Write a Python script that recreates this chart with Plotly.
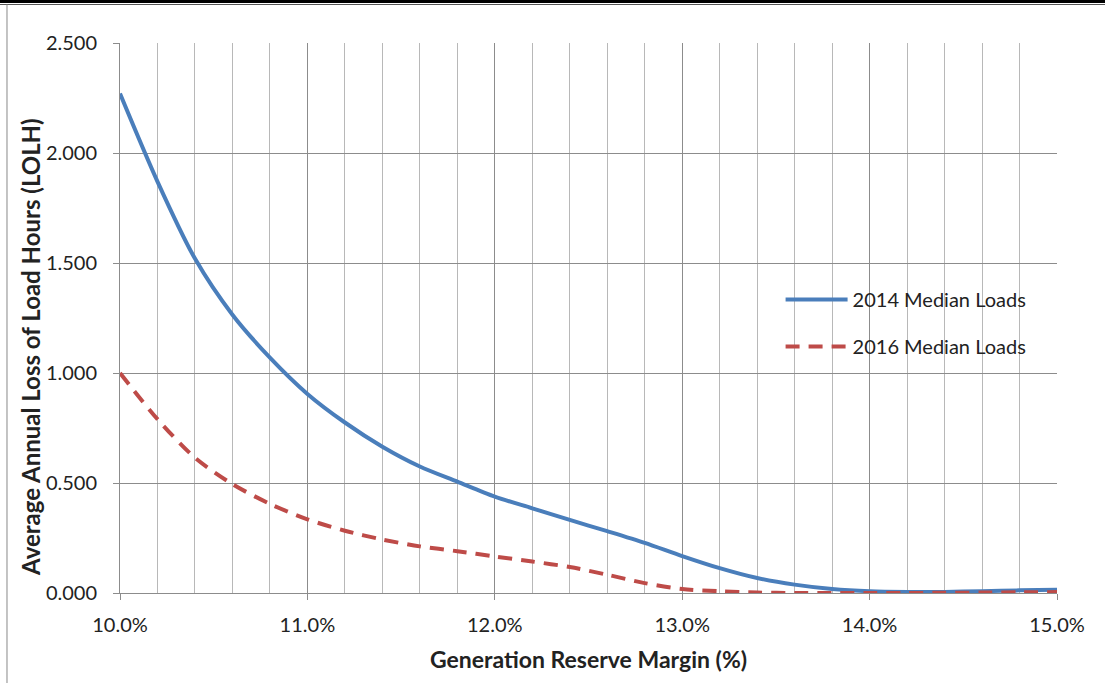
import plotly.graph_objects as go

margin_pct = [10.0, 10.2, 10.4, 10.6, 10.8, 11.0, 11.2, 11.4, 11.6, 11.8, 12.0, 12.2, 12.4,
              12.6, 12.8, 13.0, 13.2, 13.4, 13.6, 13.8, 14.0, 14.2, 14.4, 14.6, 14.8, 15.0]
lolh_2014 = [2.27, 1.87, 1.52, 1.265, 1.07, 0.905, 0.775, 0.665, 0.575, 0.506, 0.438, 0.385, 0.332,
             0.281, 0.228, 0.168, 0.113, 0.068, 0.038, 0.018, 0.008, 0.005, 0.005, 0.008, 0.012, 0.015]
lolh_2016 = [1.00, 0.79, 0.615, 0.495, 0.405, 0.335, 0.283, 0.243, 0.212, 0.19, 0.166, 0.143, 0.118,
             0.083, 0.045, 0.018, 0.008, 0.002, 0.0, 0.0, 0.0, 0.0, 0.001, 0.002, 0.003, 0.004]
series_names = ["2014 Median Loads", "2016 Median Loads"]
x_ticks = [10, 11, 12, 13, 14, 15]
y_ticks = [0, 0.5, 1.0, 1.5, 2.0, 2.5]
x_title = "Generation Reserve Margin (%)"
y_title = "Average Annual Loss of Load Hours (LOLH)"

FONT = "Lato, Carlito, Calibri, sans-serif"

fig = go.Figure()
fig.add_trace(go.Scatter(x=margin_pct, y=lolh_2014, mode="lines", name=series_names[0],
                         line=dict(color="#4A7EBB", width=4, shape="spline", smoothing=0.8),
                         legendgroup="a"))
fig.add_trace(go.Scatter(x=margin_pct, y=lolh_2016, mode="lines", name=series_names[1],
                         line=dict(color="#BE4B48", width=4, shape="spline", smoothing=0.8,
                                   dash="14px,9px"),
                         legendgroup="b"))

fig.update_layout(
    width=1105, height=683,
    margin=dict(l=120, r=48, t=43, b=90),
    paper_bgcolor="white", plot_bgcolor="white",
    font=dict(family=FONT, size=20, color="#222222"),
    showlegend=True,
    legend=dict(x=0.705, y=0.569, xanchor="left", yanchor="top", bgcolor="rgba(0,0,0,0)",
                font=dict(size=20, color="#222222"), itemwidth=62, tracegroupgap=18),
    xaxis=dict(range=[10, 15], tickvals=x_ticks, ticktext=[f"{v:.1f}%" for v in x_ticks],
               tickfont=dict(size=20),
               showgrid=True, gridcolor="#8c8c8c", gridwidth=1,
               minor=dict(dtick=0.2, tick0=10, showgrid=True, gridcolor="#b8b8b8", gridwidth=1),
               showline=True, linecolor="#8c8c8c", linewidth=1,
               ticks="outside", ticklen=6, tickcolor="#8c8c8c", ticklabelstandoff=8,
               zeroline=False, mirror=False,
               title=dict(text=f"<b>{x_title}</b>", font=dict(size=23), standoff=16)),
    yaxis=dict(range=[0, 2.5], tickvals=y_ticks, tickformat=".3f",
               tickfont=dict(size=20),
               showgrid=True, gridcolor="#8c8c8c", gridwidth=1,
               showline=True, linecolor="#8c8c8c", linewidth=1,
               ticks="outside", ticklen=6, tickcolor="#8c8c8c", ticklabelstandoff=12,
               zeroline=False),
)

fig.add_annotation(text=f"<b>{y_title}</b>", xref="paper", yref="paper",
                   x=(30 - 120) / 937, y=(593 - 347) / 550, xanchor="center", yanchor="middle",
                   textangle=-90, showarrow=False, font=dict(size=24, color="#222222"))

# outer frame lines (top double rule and left border)
fig.add_shape(type="line", xref="paper", yref="paper", x0=-0.2, x1=1.1, y0=1.0755, y1=1.0755,
              line=dict(color="black", width=3))
fig.add_shape(type="line", xref="paper", yref="paper", x0=-0.2, x1=1.1, y0=1.0700, y1=1.0700,
              line=dict(color="#555555", width=1))
fig.add_shape(type="line", xref="paper", yref="paper", x0=-0.1206, x1=-0.1206, y0=-0.2, y1=1.070,
              line=dict(color="#888888", width=1))

fig.write_html("out.html", config={"displayModeBar": False},
               post_script="document.body.style.margin='0';document.body.style.padding='0';")
